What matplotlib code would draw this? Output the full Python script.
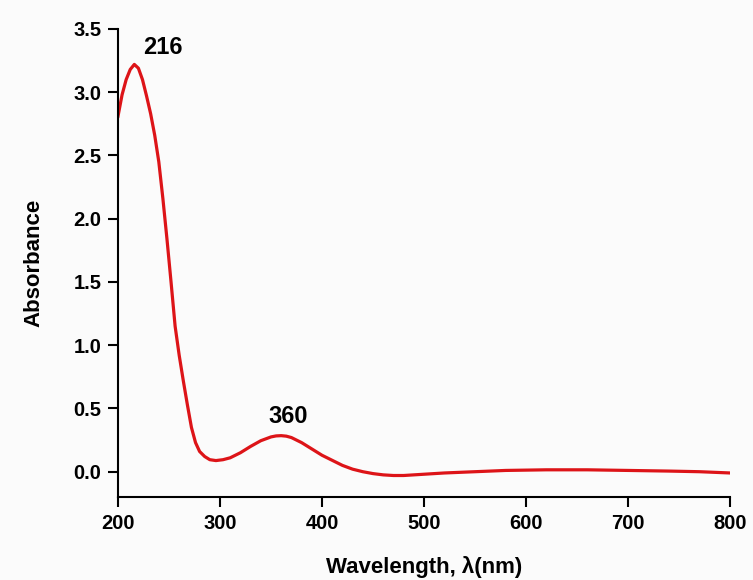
import matplotlib.pyplot as plt
import numpy as np

# values
wavelength = [200, 204, 208, 212, 216, 220, 224, 228, 232, 236, 240, 244, 248, 252,
              256, 260, 264, 268, 272, 276, 280, 285, 290, 296, 303, 310, 320, 330,
              340, 350, 355, 360, 365, 370, 380, 390, 400, 410, 420, 430, 440, 450,
              460, 470, 480, 500, 520, 550, 580, 620, 660, 700, 740, 770, 800]
absorbance = [2.81, 2.98, 3.10, 3.18, 3.22, 3.19, 3.10, 2.97, 2.83, 2.66, 2.45, 2.16,
              1.84, 1.50, 1.15, 0.92, 0.72, 0.53, 0.35, 0.23, 0.16, 0.12, 0.095,
              0.088, 0.095, 0.11, 0.15, 0.20, 0.245, 0.275, 0.283, 0.285, 0.281,
              0.27, 0.23, 0.18, 0.13, 0.09, 0.05, 0.02, 0.0, -0.015, -0.025, -0.03,
              -0.03, -0.02, -0.01, 0.0, 0.01, 0.015, 0.015, 0.01, 0.005, 0.0, -0.01]
peak_labels = ['216', '360']
label_pos = [(244, 3.35), (367, 0.44)]

plt.rcParams['font.family'] = ['Liberation Sans', 'DejaVu Sans']
plt.rcParams['font.weight'] = 'bold'

fig = plt.figure(figsize=(7.53, 5.8), dpi=100, facecolor='#fbfbfb')
ax = fig.add_axes([0.1567, 0.1431, 0.8128, 0.8069])
ax.set_facecolor('#fbfbfb')

ax.plot(wavelength, absorbance, color='#dd1418', linewidth=2.3)

for lab, (x, y) in zip(peak_labels, label_pos):
	ax.text(x, y, lab, ha='center', va='center', fontsize=17, fontweight='bold')

ax.set_xlim(200, 800)
ax.set_ylim(-0.2, 3.5)
ax.set_xticks(np.arange(200, 801, 100))
ax.set_yticks(np.arange(0, 3.51, 0.5))
ax.set_yticklabels(['%.1f' % v for v in np.arange(0, 3.51, 0.5)])

for s in ['top', 'right']:
	ax.spines[s].set_visible(False)
for s in ['left', 'bottom']:
	ax.spines[s].set_linewidth(1.5)
ax.tick_params(direction='out', length=7, width=1.5, labelsize=14.5, pad=5)
for t in ax.get_xticklabels() + ax.get_yticklabels():
	t.set_fontweight('bold')

ax.set_xlabel('Wavelength, λ(nm)', fontsize=16, fontweight='bold', labelpad=17)
ax.set_ylabel('Absorbance', fontsize=16, fontweight='bold', labelpad=21)

fig.savefig('out.png', dpi=100, facecolor=fig.get_facecolor())
